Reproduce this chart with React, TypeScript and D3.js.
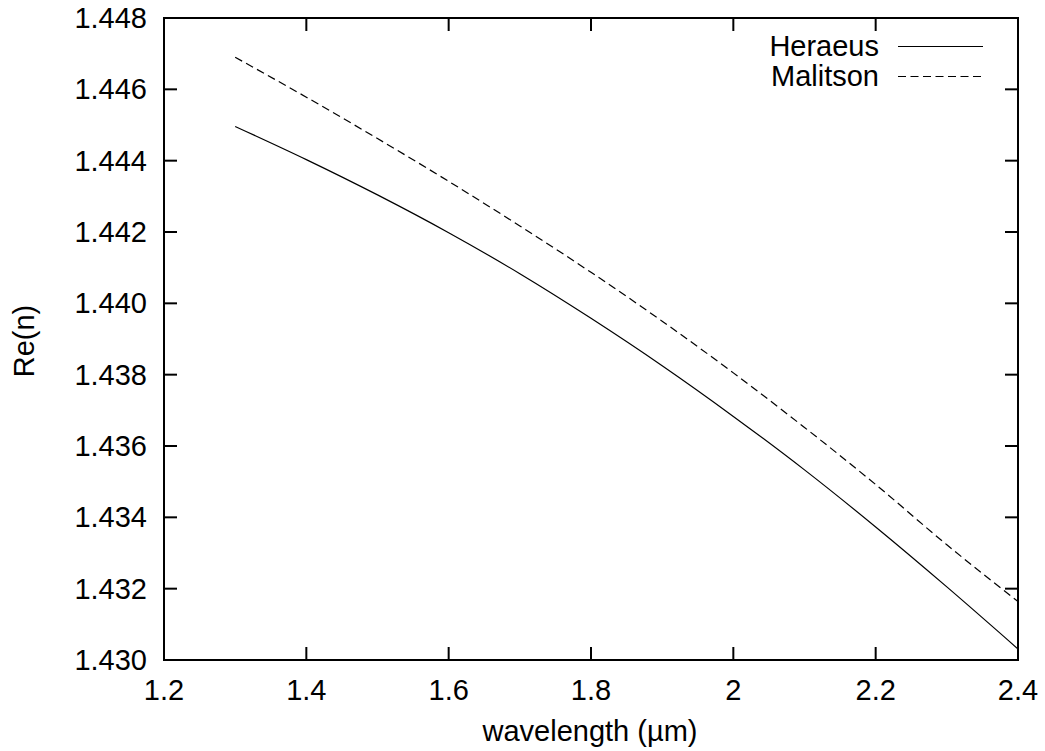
import React from "react";
import * as d3 from "d3";

const wavelengths = [1.3, 1.4, 1.5, 1.6, 1.7, 1.8, 1.9, 2.0, 2.1, 2.2, 2.3, 2.4];
const heraeus = [1.44496, 1.44403, 1.44304, 1.44198, 1.44083, 1.43958, 1.43825, 1.43683, 1.43533, 1.43373, 1.43205, 1.43031];
const malitson = [1.4469, 1.44578, 1.44462, 1.44342, 1.44217, 1.44087, 1.4395, 1.43805, 1.43652, 1.43492, 1.43323, 1.43164];
const xTicks = [1.2, 1.4, 1.6, 1.8, 2.0, 2.2, 2.4];
const xTickLabels = ["1.2", "1.4", "1.6", "1.8", "2", "2.2", "2.4"];
const yTicks = [1.43, 1.432, 1.434, 1.436, 1.438, 1.44, 1.442, 1.444, 1.446, 1.448];
const seriesNames = ["Heraeus", "Malitson"];

const W = 1045;
const H = 751;
const L = 164, R = 1018, T = 18, B = 660;
const FONT = "'Liberation Sans', Arial, Helvetica, sans-serif";
const FS = 29;
const TICK = 13;

export default function App() {
  const x = d3.scaleLinear().domain([1.2, 2.4]).range([L, R]);
  const y = d3.scaleLinear().domain([1.43, 1.448]).range([B, T]);
  const line = d3
    .line<number>()
    .x((_, i) => x(wavelengths[i]))
    .y((d) => y(d))
    .curve(d3.curveMonotoneX);

  const series = [
    { name: seriesNames[0], values: heraeus, dash: undefined as string | undefined },
    { name: seriesNames[1], values: malitson, dash: "8,4.5" },
  ];

  return (
    <svg
      width={W}
      height={H}
      style={{ position: "absolute", left: 0, top: 0, background: "#fff" }}
      fontFamily={FONT}
    >
      <rect x={0} y={0} width={W} height={H} fill="#fff" />
      {/* ticks */}
      {xTicks.map((t, i) => (
        <g key={"xt" + i}>
          {i > 0 && i < xTicks.length - 1 && (
            <>
              <line x1={x(t)} x2={x(t)} y1={B} y2={B - TICK} stroke="#000" strokeWidth={2} />
              <line x1={x(t)} x2={x(t)} y1={T} y2={T + TICK} stroke="#000" strokeWidth={2} />
            </>
          )}
          <text x={x(t)} y={700} fontSize={FS} textAnchor="middle" fill="#000">
            {xTickLabels[i]}
          </text>
        </g>
      ))}
      {yTicks.map((t, i) => (
        <g key={"yt" + i}>
          {i > 0 && i < yTicks.length - 1 && (
            <>
              <line x1={L} x2={L + TICK} y1={y(t)} y2={y(t)} stroke="#000" strokeWidth={2} />
              <line x1={R} x2={R - TICK} y1={y(t)} y2={y(t)} stroke="#000" strokeWidth={2} />
            </>
          )}
          <text x={147} y={y(t) + 10} fontSize={FS} textAnchor="end" fill="#000">
            {t.toFixed(3)}
          </text>
        </g>
      ))}
      {/* series */}
      {series.map((s) => (
        <path
          key={s.name}
          d={line(s.values) || ""}
          fill="none"
          stroke="#000"
          strokeWidth={1.2}
          strokeDasharray={s.dash}
        />
      ))}
      {/* frame */}
      <rect x={L} y={T} width={R - L} height={B - T} fill="none" stroke="#000" strokeWidth={2} />
      {/* legend */}
      {series.map((s, i) => (
        <g key={"lg" + s.name}>
          <text x={879} y={56 + i * 30} fontSize={FS} textAnchor="end" fill="#000">
            {s.name}
          </text>
          <line
            x1={898}
            x2={983}
            y1={46.5 + i * 30}
            y2={46.5 + i * 30}
            stroke="#000"
            strokeWidth={1.2}
            strokeDasharray={s.dash}
          />
        </g>
      ))}
      {/* axis labels */}
      <text x={590} y={741} fontSize={FS} textAnchor="middle" fill="#000">
        wavelength (µm)
      </text>
      <text
        transform={`translate(34,341) rotate(-90)`}
        fontSize={FS}
        textAnchor="middle"
        fill="#000"
      >
        Re(n)
      </text>
    </svg>
  );
}
